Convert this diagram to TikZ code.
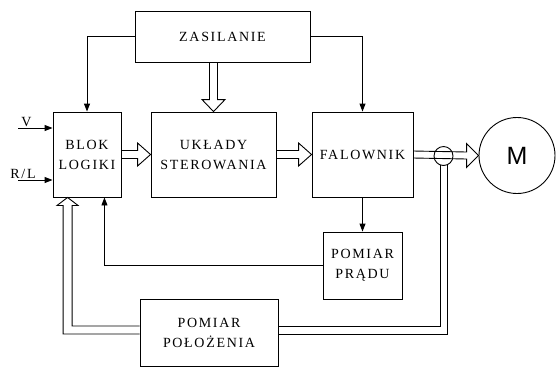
\documentclass[tikz,border=0pt]{standalone}
\usepackage{fontspec}
\setmainfont{Liberation Serif}[LetterSpace=12]
\newfontfamily\motorfont{Liberation Sans}
\usetikzlibrary{arrows.meta,calc}

\begin{document}
\begin{tikzpicture}[x=1bp,y=-1bp,line width=0.9bp,
  font=\fontsize{14bp}{20bp}\selectfont,
  blk/.style={draw,rectangle,align=center,inner sep=0pt},
  >={Triangle[length=8bp,width=6bp]}]
  \useasboundingbox (0,0) rectangle (556,367);
  \node[blk,minimum width=175bp,minimum height=51bp] (zas) at (222.5,36.5) {ZASILANIE};
  \node[blk,minimum width=68bp,minimum height=85bp] (blok) at (87,154.5) {BLOK\\LOGIKI};
  \node[blk,minimum width=125bp,minimum height=85bp] (ukl) at (213.5,154.5) {UKŁADY\\STEROWANIA};
  \node[blk,minimum width=101bp,minimum height=85bp] (fal) at (362.5,154.5) {FALOWNIK};
  \node[blk,minimum width=79bp,minimum height=67bp] (prad) at (362.5,265.5) {POMIAR\\PRĄDU};
  \node[blk,minimum width=138bp,minimum height=67bp] (poloz) at (209,332.5) {POMIAR\\POŁOŻENIA};
  \node[draw,circle,minimum size=76bp,inner sep=0pt,
    font=\motorfont\fontsize{25bp}{25bp}\selectfont] (motor) at (517,155.5) {M};
  % wejscia
  \coordinate (vin) at (18,128);
  \coordinate (rlin) at (18,180);
  \node[anchor=base west,inner sep=0pt] (vlab) at (21,126) {V};
  \node[anchor=base west,inner sep=0pt] (rllab) at (10,178) {R/L};
  \draw[->] (vin) -- (vin -| blok.west);
  \draw[->] (rlin) -- (rlin -| blok.west);
  % zasilanie
  \draw[->] (zas.west) -| (blok.north);
  \draw[->] (zas.east) -| (fal.north);
  \draw ($(zas.south -| ukl.north)+(-4,0)$) -- ($(ukl.north)+(-4,-12)$) -- ($(ukl.north)+(-11.5,-12)$)
    -- (ukl.north) -- ($(ukl.north)+(11.5,-12)$) -- ($(ukl.north)+(4,-12)$) -- ($(zas.south -| ukl.north)+(4,0)$);
  % tor glowny
  \draw ($(blok.east)+(0,-4)$) -- ($(ukl.west)+(-13,-4)$) -- ($(ukl.west)+(-13,-11.5)$)
    -- (ukl.west) -- ($(ukl.west)+(-13,11.5)$) -- ($(ukl.west)+(-13,4)$) -- ($(blok.east)+(0,4)$);
  \draw ($(ukl.east)+(0,-4)$) -- ($(fal.west)+(-13,-4)$) -- ($(fal.west)+(-13,-11.5)$)
    -- (fal.west) -- ($(fal.west)+(-13,11.5)$) -- ($(fal.west)+(-13,4)$) -- ($(ukl.east)+(0,4)$);
  \draw ($(fal.east)+(0,-3.5)$) -- ($(motor.west)+(-12,-3.5)$) -- ($(motor.west)+(-12,-12)$)
    -- (motor.west) -- ($(motor.west)+(-12,12)$) -- ($(motor.west)+(-12,3.5)$) -- ($(fal.east)+(0,3.5)$);
  % pomiar pradu
  \draw[->] (fal.south) -- (prad.north);
  \draw[->] (prad.west) -| ($(blok.south east)+(-17,0)$);
  % pomiar polozenia
  \node[draw,circle,minimum size=19bp,inner sep=0pt] (sens) at (443.5,156) {};
  \draw ($(sens.south)+(-3.5,-0.7)$) |- ($(poloz.east)+(0,-6.5)$);
  \draw ($(sens.south)+(3.5,-0.7)$) |- ($(poloz.east)+(0,1.5)$);
  \coordinate (fb) at ($(blok.south west)+(15,0)$);
  \draw ($(poloz.west)+(0,-6.5)$) -| ($(fb)+(4.5,8)$) -- ($(fb)+(10.5,8)$) -- (fb)
    -- ($(fb)+(-10.5,8)$) -- ($(fb)+(-4.5,8)$) |- ($(poloz.west)+(0,1.5)$);
\end{tikzpicture}
\end{document}
